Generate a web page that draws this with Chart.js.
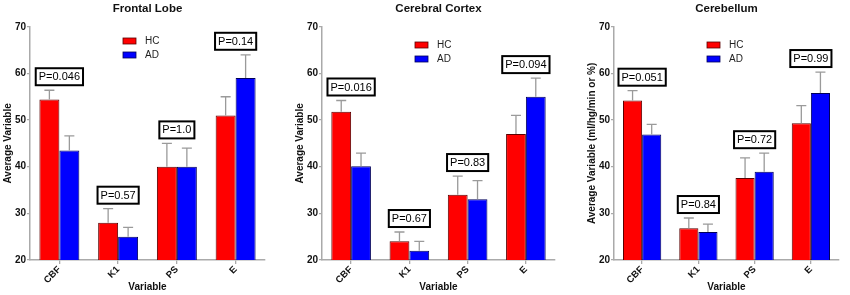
<!DOCTYPE html>
<html>
<head>
<meta charset="utf-8">
<script src="https://cdn.jsdelivr.net/npm/chart.js@4.4.1/dist/chart.umd.min.js"></script>
<style>
  html, body { margin: 0; padding: 0; background: #ffffff; }
  body { width: 850px; height: 295px; position: relative; overflow: hidden; }
  .panel { position: absolute; top: 0; height: 295px; }
</style>
</head>
<body>
<div class="panel" id="p1" style="left:0px;width:285px;"><canvas id="c1"></canvas></div>
<div class="panel" id="p2" style="left:292px;width:280px;"><canvas id="c2"></canvas></div>
<div class="panel" id="p3" style="left:584px;width:266px;"><canvas id="c3"></canvas></div>
<script>
// ---- Data ----
const categories = ['CBF', 'K1', 'PS', 'E'];
const seriesNames = ['HC', 'AD'];
const yTicks = [20, 30, 40, 50, 60, 70];

const frontalTitle = 'Frontal Lobe';
const frontalHC = [54.4, 28.0, 40.0, 51.0];
const frontalHCErr = [2.0, 3.0, 5.0, 4.0];
const frontalAD = [43.5, 25.0, 40.0, 59.0];
const frontalADErr = [3.1, 2.0, 4.0, 5.0];
const frontalP = ['P=0.046', 'P=0.57', 'P=1.0', 'P=0.14'];

const cortexTitle = 'Cerebral Cortex';
const cortexHC = [51.8, 24.0, 34.0, 47.0];
const cortexHCErr = [2.4, 2.0, 4.0, 4.0];
const cortexAD = [40.1, 22.0, 33.0, 55.0];
const cortexADErr = [2.8, 2.0, 4.0, 4.0];
const cortexP = ['P=0.016', 'P=0.67', 'P=0.83', 'P=0.094'];

const cerebTitle = 'Cerebellum';
const cerebHC = [54.2, 26.8, 37.6, 49.3];
const cerebHCErr = [2.1, 2.2, 4.3, 3.8];
const cerebAD = [46.9, 26.0, 38.9, 55.8];
const cerebADErr = [2.2, 1.7, 4.0, 4.5];
const cerebP = ['P=0.051', 'P=0.84', 'P=0.72', 'P=0.99'];

const FONT = '"Liberation Sans", Arial, Helvetica, sans-serif';
const HC_COLOR = '#ff0000';
const AD_COLOR = '#0000ff';

// ---- Plugins ----
const errorBarPlugin = {
  id: 'errorBars',
  afterDatasetsDraw(chart) {
    const ctx = chart.ctx;
    const y = chart.scales.y;
    ctx.save();
    ctx.strokeStyle = '#9a9a9a';
    ctx.lineWidth = 1.3;
    chart.data.datasets.forEach((ds, i) => {
      const meta = chart.getDatasetMeta(i);
      meta.data.forEach((bar, j) => {
        const top = y.getPixelForValue(ds.data[j] + ds.errors[j]);
        ctx.beginPath();
        ctx.moveTo(bar.x, bar.y);
        ctx.lineTo(bar.x, top);
        ctx.moveTo(bar.x - 5, top);
        ctx.lineTo(bar.x + 5, top);
        ctx.stroke();
      });
    });
    ctx.restore();
  }
};

const pBoxPlugin = {
  id: 'pBoxes',
  afterDraw(chart, args, opts) {
    const ctx = chart.ctx;
    const x = chart.scales.x;
    const y = chart.scales.y;
    ctx.save();
    ctx.font = '11px ' + FONT;
    ctx.textAlign = 'center';
    ctx.textBaseline = 'middle';
    (opts.labels || []).forEach((txt, j) => {
      let topPx = Infinity;
      chart.data.datasets.forEach(ds => {
        topPx = Math.min(topPx, y.getPixelForValue(ds.data[j] + ds.errors[j]));
      });
      const cx = x.getPixelForValue(j);
      const w = ctx.measureText(txt).width + 6;
      const h = 17;
      const bottom = topPx - 5;
      ctx.fillStyle = '#ffffff';
      ctx.fillRect(cx - w / 2, bottom - h, w, h);
      ctx.lineWidth = 2;
      ctx.strokeStyle = '#000000';
      ctx.strokeRect(cx - w / 2, bottom - h, w, h);
      ctx.fillStyle = '#000000';
      ctx.fillText(txt, cx, bottom - h / 2 + 0.5);
    });
    ctx.restore();
  }
};

const legendPlugin = {
  id: 'innerLegend',
  afterDraw(chart, args, opts) {
    const ctx = chart.ctx;
    const area = chart.chartArea;
    const x0 = area.left + 93;
    let yc = opts.top;
    ctx.save();
    ctx.font = '10px ' + FONT;
    ctx.textAlign = 'left';
    ctx.textBaseline = 'middle';
    chart.data.datasets.forEach(ds => {
      ctx.fillStyle = ds.backgroundColor;
      ctx.fillRect(x0, yc - 3, 13, 6);
      ctx.strokeStyle = ds.borderColor;
      ctx.lineWidth = 0.8;
      ctx.strokeRect(x0, yc - 3, 13, 6);
      ctx.fillStyle = '#222222';
      ctx.fillText(ds.label, x0 + 22, yc);
      yc += 14;
    });
    ctx.restore();
  }
};

function makeChart(canvasId, title, hc, hcErr, ad, adErr, pLabels, yTitle, rightPad, legendTop) {
  return new Chart(document.getElementById(canvasId), {
    type: 'bar',
    data: {
      labels: categories,
      datasets: [
        { label: seriesNames[0], data: hc, errors: hcErr, backgroundColor: HC_COLOR, borderColor: '#5a0000', borderWidth: 1 },
        { label: seriesNames[1], data: ad, errors: adErr, backgroundColor: AD_COLOR, borderColor: '#00005a', borderWidth: 1 }
      ]
    },
    options: {
      responsive: true,
      maintainAspectRatio: false,
      animation: false,
      devicePixelRatio: 1,
      layout: { padding: { left: 0, right: rightPad, top: 0, bottom: 0 } },
      datasets: { bar: { categoryPercentage: 0.68, barPercentage: 1.0 } },
      plugins: {
        legend: { display: false },
        tooltip: { enabled: false },
        title: {
          display: true, text: title, fullSize: false,
          font: { family: FONT, size: 11.5, weight: 'bold' }, color: '#111111',
          padding: { top: 2, bottom: 11 }
        },
        pBoxes: { labels: pLabels },
        innerLegend: { top: legendTop }
      },
      scales: {
        x: {
          offset: true,
          grid: { display: true, offset: false, drawOnChartArea: false, drawTicks: true, tickLength: 4, color: '#aaaaaa', lineWidth: 1.3 },
          border: { display: true, color: '#aaaaaa', width: 1.5 },
          ticks: { font: { family: FONT, size: 9.5, weight: 'bold' }, color: '#111111', maxRotation: 45, minRotation: 45, padding: 0 },
          title: { display: true, text: 'Variable', font: { family: FONT, size: 10, weight: 'bold' }, color: '#111111', padding: { top: 0, bottom: 2 } },
          afterFit(scale) { scale.height = 35; }
        },
        y: {
          min: 20, max: 70,
          afterBuildTicks(scale) { scale.ticks = yTicks.map(v => ({ value: v })); },
          grid: { display: true, drawOnChartArea: false, drawTicks: true, tickLength: 3, color: '#aaaaaa', lineWidth: 1.3 },
          border: { display: true, color: '#aaaaaa', width: 1.5 },
          ticks: { font: { family: FONT, size: 10, weight: 'bold' }, color: '#111111', padding: 1 },
          title: { display: true, text: yTitle, font: { family: FONT, size: 10, weight: 'bold' }, color: '#111111', padding: { top: 2, bottom: 0 } },
          afterFit(scale) { scale.width = 30; }
        }
      }
    },
    plugins: [errorBarPlugin, pBoxPlugin, legendPlugin]
  });
}

makeChart('c1', frontalTitle, frontalHC, frontalHCErr, frontalAD, frontalADErr, frontalP, 'Average Variable', 20, 41);
makeChart('c2', cortexTitle, cortexHC, cortexHCErr, cortexAD, cortexADErr, cortexP, 'Average Variable', 17, 45);
makeChart('c3', cerebTitle, cerebHC, cerebHCErr, cerebAD, cerebADErr, cerebP, 'Average Variable (ml/hg/min or %)', 11, 45);
</script>
</body>
</html>
